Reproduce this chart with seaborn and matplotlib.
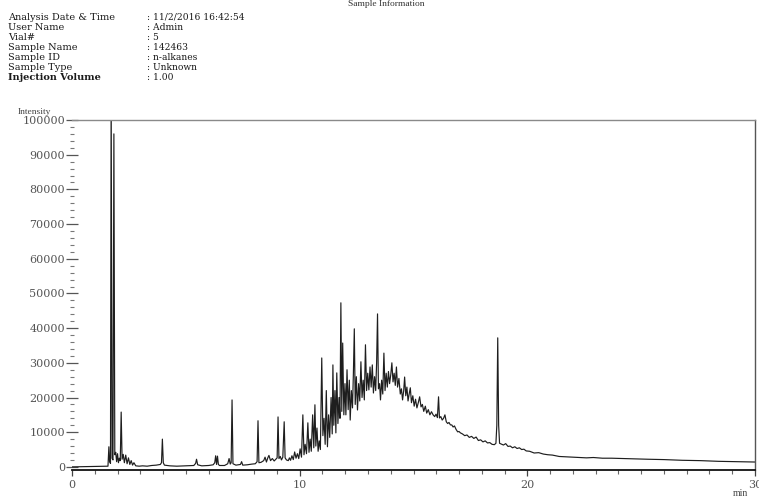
import numpy as np
import pandas as pd
import matplotlib
matplotlib.use("Agg")
import matplotlib.pyplot as plt
import seaborn as sns
from matplotlib.ticker import MultipleLocator, FixedLocator

# ---------------- data ----------------
t_early = [0, 1.58, 1.62, 1.65, 1.69, 1.72, 1.76, 1.80, 1.84, 1.88, 1.92, 1.96, 2.00, 2.04,
           2.08, 2.12, 2.16, 2.20, 2.25, 2.30, 2.36, 2.42, 2.48, 2.54, 2.60, 2.66, 2.72, 2.80,
           2.95, 3.10, 3.30, 3.50, 3.70, 3.88, 3.93, 3.97, 4.01, 4.06, 4.30, 4.60, 5.00, 5.35,
           5.43, 5.47, 5.52, 5.70, 6.00, 6.20, 6.27, 6.31, 6.35, 6.39, 6.43, 6.48, 6.70, 6.84,
           6.90, 6.95, 6.99, 7.03, 7.07, 7.20, 7.40, 7.45, 7.50, 7.70, 7.90, 8.05, 8.13, 8.17,
           8.21, 8.30, 8.42, 8.48, 8.54, 8.60, 8.65, 8.72, 8.80, 8.88, 8.95, 9.01, 9.05, 9.09,
           9.15, 9.20, 9.26, 9.32, 9.36, 9.42, 9.50]
i_early = [0, 200, 5800, 1500, 1000, 110000, 2500, 2000, 96000, 3500, 4200, 1500, 3800, 1200,
           2500, 1800, 15800, 2200, 3600, 1200, 3400, 900, 2600, 700, 1800, 500, 1200, 300,
           200, 300, 200, 400, 500, 700, 1200, 8000, 1200, 500, 300, 200, 300, 400,
           1000, 2200, 600, 300, 400, 600, 1200, 3200, 700, 3100, 700, 400, 400, 900,
           2400, 800, 1200, 19300, 900, 500, 700, 1500, 500, 600, 800, 900, 1500, 13300,
           1200, 1300, 1800, 2800, 1400, 2600, 3300, 1800, 2400, 1700, 2200, 2600, 14400, 2400,
           3000, 2000, 2800, 13000, 2600, 2000, 1800]

t_hump = [9.55, 9.60, 9.66, 9.72, 9.78, 9.84, 9.90, 9.96, 10.02, 10.08, 10.14, 10.19, 10.24,
          10.30, 10.36, 10.41, 10.46, 10.51, 10.57, 10.62, 10.67, 10.71, 10.76, 10.81, 10.86,
          10.91, 10.97, 11.02, 11.07, 11.12, 11.17, 11.22, 11.27, 11.32, 11.38, 11.43, 11.46,
          11.50, 11.55, 11.59, 11.63, 11.68, 11.73, 11.77, 11.81, 11.85, 11.89, 11.94, 11.99,
          12.03, 12.08, 12.13, 12.18, 12.22, 12.27, 12.32, 12.36, 12.40, 12.44, 12.49, 12.54,
          12.59, 12.64, 12.69, 12.74, 12.79, 12.84, 12.89, 12.94, 12.99, 13.04, 13.09, 13.14,
          13.19, 13.24, 13.29, 13.34, 13.38, 13.42, 13.46, 13.51, 13.55, 13.60, 13.65, 13.70,
          13.75, 13.80, 13.85, 13.90, 13.95, 14.00, 14.05, 14.10, 14.15, 14.20, 14.25, 14.30,
          14.36, 14.42, 14.47, 14.52, 14.57, 14.61, 14.66, 14.71, 14.76, 14.81, 14.86, 14.91,
          14.97, 15.03, 15.09, 15.15, 15.21, 15.27, 15.33, 15.39, 15.45, 15.52, 15.58, 15.65,
          15.72, 15.79, 15.86, 15.93, 15.99, 16.05, 16.10, 16.14, 16.20, 16.26, 16.32, 16.38,
          16.44, 16.50, 16.56, 16.62, 16.68, 16.74, 16.80, 16.87, 16.94, 17.00]
i_hump = [2600, 1900, 3200, 2100, 4300, 2500, 3800, 2400, 5200, 2800, 15000, 3500, 6500,
          3800, 12700, 4200, 8000, 4500, 15000, 5500, 17900, 6000, 11200, 4500, 7500,
          5000, 31400, 9000, 14000, 6500, 22000, 5800, 15000, 8500, 20000, 9500, 29400,
          12000, 22000, 9800, 27100, 12500, 20000, 14000, 47300, 16000, 35700, 15000, 24000,
          15000, 28000, 16500, 25000, 13500, 22000, 17000, 27000, 39800, 18000, 26000, 16400,
          24000, 19000, 30300, 20000, 25000, 19300, 35200, 22000, 27000, 22200, 28800, 23000,
          29400, 21300, 26000, 22000, 30000, 44100, 22500, 24000, 19300, 25000, 21000, 32800,
          22000, 27000, 23000, 27500, 24000, 26500, 30000, 24500, 27000, 23500, 28800, 23000,
          25500, 21000, 22500, 19300, 22000, 25900, 20500, 23000, 19000, 21000, 22800, 18500,
          20500, 17500, 19500, 17000, 18500, 20200, 17300, 18000, 16000, 17500, 15500, 16500,
          15000, 15900, 15000, 14500, 15200, 14200, 20200, 14100, 14500, 13500, 14000, 15000,
          13000, 12500, 12800, 12100, 12100, 11500, 11800, 10800, 10100, 10200]

t_tail = [17.06, 17.15, 17.25, 17.35, 17.45, 17.55, 17.65, 17.75, 17.85, 17.95, 18.05, 18.15,
          18.25, 18.35, 18.45, 18.55, 18.62, 18.66, 18.70, 18.74, 18.78, 18.85, 18.95, 19.05,
          19.15, 19.25, 19.35, 19.45, 19.55, 19.65, 19.75, 19.85, 19.95, 20.10, 20.30, 20.50,
          20.70, 20.90, 21.10, 21.40, 21.70, 22.00, 22.30, 22.60, 22.90, 23.30, 23.70, 24.20,
          24.70, 25.30, 26.00, 26.80, 27.60, 28.40, 29.20, 30.00]
i_tail = [9800, 9500, 9000, 9200, 8500, 8800, 8200, 8600, 7600, 7800, 7200, 7500,
          6900, 7000, 6500, 6400, 6800, 12000, 37200, 12000, 6800, 6600, 6300, 6700,
          5900, 6000, 5500, 5800, 5300, 5500, 5000, 5100, 4600, 4500, 4000, 4100,
          3700, 3500, 3400, 3000, 2900, 2800, 2700, 2600, 2700, 2500, 2500, 2400,
          2300, 2200, 2100, 1900, 1800, 1600, 1500, 1400]

y_ticks = [0, 10000, 20000, 30000, 40000, 50000, 60000, 70000, 80000, 90000, 100000]
x_ticks = [0, 10, 20, 30]

header_keys = ["Analysis Date & Time", "User Name", "Vial#", "Sample Name",
               "Sample ID", "Sample Type", "Injection Volume"]
header_vals = [": 11/2/2016 16:42:54", ": Admin", ": 5", ": 142463",
               ": n-alkanes", ": Unknown", ": 1.00"]

# ---------------- plot ----------------
sns.set_style("white")
plt.rcParams["font.family"] = ["Liberation Serif", "DejaVu Serif"]

df = pd.DataFrame({"time": t_early + t_hump + t_tail,
                   "intensity": i_early + i_hump + i_tail})

fig = plt.figure(figsize=(7.59, 5.0), dpi=100)
ax = fig.add_axes([72 / 759, 30 / 500, 683 / 759, 350 / 500])

sns.lineplot(data=df, x="time", y="intensity", sort=False, estimator=None,
             color="#1e1e1e", linewidth=0.85, ax=ax)

ax.set_xlim(0, 30)
ax.set_ylim(-900, 100000)
ax.set_xlabel("")
ax.set_ylabel("")

ax.yaxis.set_major_locator(FixedLocator(y_ticks))
ax.yaxis.set_minor_locator(MultipleLocator(2000))
ax.xaxis.set_major_locator(FixedLocator(x_ticks))
ax.xaxis.set_minor_locator(MultipleLocator(1))
ax.set_yticklabels([str(v) for v in y_ticks], family="DejaVu Serif")
ax.set_xticklabels([str(v) for v in x_ticks], family="DejaVu Serif")

ax.tick_params(axis="y", which="major", direction="inout", length=8, width=0.9,
               color="#555555", labelsize=8, labelcolor="#555555", pad=1, left=True)
ax.tick_params(axis="y", which="minor", direction="inout", length=3, width=0.8,
               color="#777777", left=True)
ax.tick_params(axis="x", which="major", direction="out", length=4, width=0.9,
               color="#444444", labelsize=8, labelcolor="#555555", pad=3, bottom=True)
ax.tick_params(axis="x", which="minor", direction="out", length=3, width=0.8,
               color="#666666", bottom=True)

ax.spines["left"].set_visible(False)
ax.spines["bottom"].set_color("#111111")
ax.spines["bottom"].set_linewidth(1.3)
ax.spines["top"].set_color("#8a8a8a")
ax.spines["top"].set_linewidth(1.0)
ax.spines["right"].set_color("#555555")
ax.spines["right"].set_linewidth(1.0)

fig.text(18 / 759, 1 - 112 / 500, "Intensity", fontsize=6.8, color="#444444",
         ha="left", va="center")
fig.text(740 / 759, 1 - 494 / 500, "min", fontsize=7, color="#444444",
         ha="center", va="center")

for k, (key, val) in enumerate(zip(header_keys, header_vals)):
    yy = 1 - (17 + 10.0 * k) / 500
    fig.text(8 / 759, yy, key, fontsize=7.0, color="#1a1a1a", ha="left", va="center",
             family="DejaVu Serif",
             fontweight="bold" if key == "Injection Volume" else "normal")
    fig.text(147 / 759, yy, val, fontsize=6.6, color="#1a1a1a", ha="left", va="center",
             family="DejaVu Serif")

fig.text(386 / 759, 1 - 4 / 500, "Sample Information", fontsize=6.8, color="#333333",
         ha="center", va="center")

fig.savefig("out.png", dpi=100)
